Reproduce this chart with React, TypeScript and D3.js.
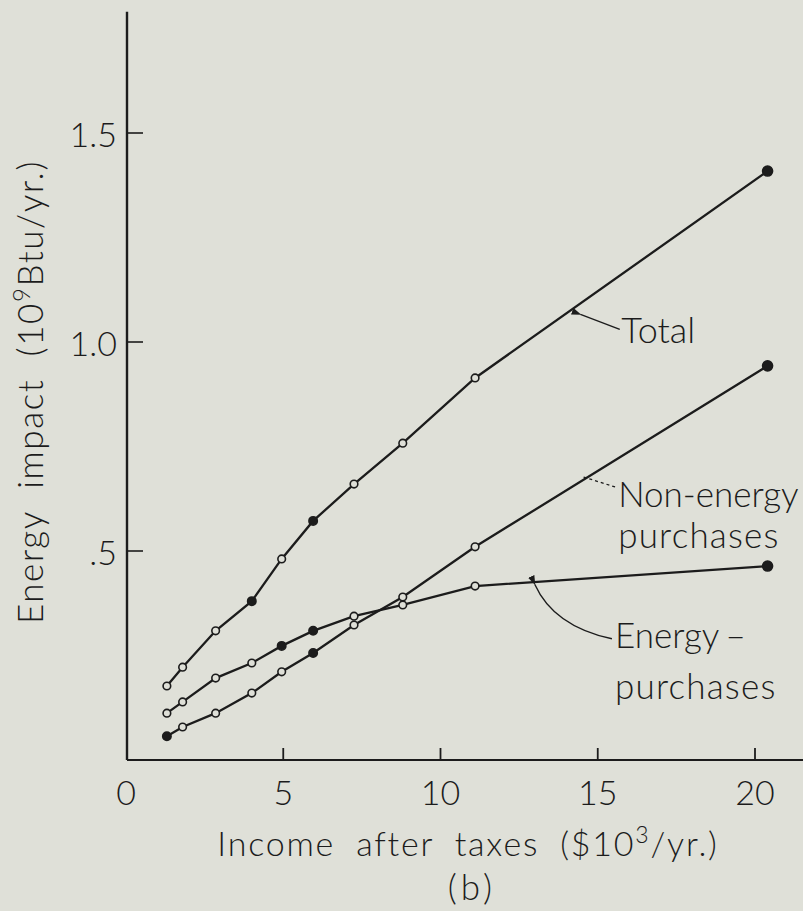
import React from "react";
import * as d3 from "d3";

const incomes = [1.3, 1.8, 2.85, 4.0, 4.95, 5.95, 7.25, 8.8, 11.1, 20.4];
const totalValues = [0.177, 0.222, 0.309, 0.38, 0.481, 0.572, 0.66, 0.758, 0.914, 1.409];
const energyValues = [0.112, 0.139, 0.196, 0.232, 0.273, 0.309, 0.344, 0.371, 0.416, 0.464];
const nonEnergyValues = [0.057, 0.079, 0.112, 0.16, 0.211, 0.256, 0.323, 0.39, 0.51, 0.943];
const totalFilled = [false, false, false, true, false, true, false, false, false, true];
const energyFilled = [false, false, false, false, true, true, false, false, false, true];
const nonEnergyFilled = [true, false, false, false, false, true, false, false, false, true];

const xTicks = [0, 5, 10, 15, 20];
const xTickLabels = ["0", "5", "10", "15", "20"];
const yTicks = [0.5, 1.0, 1.5];
const yTickLabels = [".5", "1.0", "1.5"];

const W = 803;
const H = 911;
const INK = "#1c1c1c";
const BG = "#dfe0d8";
const FONT = "Lato, 'Open Sans', 'DejaVu Sans', sans-serif";

export default function App() {
  const x = d3.scaleLinear().domain([0, 20]).range([126, 755]);
  const y = d3.scaleLinear().domain([0, 1.5]).range([760, 133]);
  const axisX = 127;
  const axisY = y(0);
  const yTop = y(1.79);

  const line = d3
    .line<[number, number]>()
    .x((d) => x(d[0]))
    .y((d) => y(d[1]));

  const series = [
    { values: totalValues, filled: totalFilled },
    { values: energyValues, filled: energyFilled },
    { values: nonEnergyValues, filled: nonEnergyFilled },
  ];

  // annotation anchors (data units)
  const totalArrowFrom: [number, number] = [14.45, 1.066];
  const totalArrowTo: [number, number] = [15.7, 1.03];
  const nonArrowFrom: [number, number] = [14.55, 0.677];
  const nonArrowTo: [number, number] = [15.6, 0.652];
  const enArrowFrom: [number, number] = [13.0, 0.42];
  const enArrowCtrl: [number, number] = [13.6, 0.32];
  const enArrowTo: [number, number] = [15.45, 0.29];

  const labelProps = {
    fontFamily: FONT,
    fontWeight: 300,
    fill: INK,
  };

  return (
    <svg
      width={W}
      height={H}
      style={{ position: "absolute", left: 0, top: 0 }}
      xmlns="http://www.w3.org/2000/svg"
    >
      <defs>
        <marker id="arr" viewBox="0 0 10 10" refX="1" refY="5" markerWidth="7" markerHeight="7" orient="auto-start-reverse">
          <path d="M0,5 L10,1.5 L10,8.5 Z" fill={INK} />
        </marker>
      </defs>
      <rect x={0} y={0} width={W} height={H} fill={BG} />

      {/* axes */}
      <line x1={axisX} y1={yTop} x2={axisX} y2={axisY} stroke={INK} strokeWidth={2.4} />
      <line x1={axisX} y1={axisY} x2={W} y2={axisY} stroke={INK} strokeWidth={2} />

      {yTicks.map((t, i) => (
        <g key={"yt" + i}>
          <line x1={axisX} x2={axisX + 16} y1={y(t)} y2={y(t)} stroke={INK} strokeWidth={1.6} />
          <text x={117} y={y(t)} textAnchor="end" dominantBaseline="central" fontSize={34} {...labelProps}>
            {yTickLabels[i]}
          </text>
        </g>
      ))}

      {xTicks.map((t, i) => (
        <g key={"xt" + i}>
          {t !== 0 && (
            <line x1={x(t)} x2={x(t)} y1={axisY} y2={axisY - 12} stroke={INK} strokeWidth={1.8} />
          )}
          <text x={x(t)} y={805} textAnchor="middle" fontSize={34} {...labelProps}>
            {xTickLabels[i]}
          </text>
        </g>
      ))}

      {/* axis titles */}
      <text
        transform={`translate(43, 392) rotate(-90)`}
        textAnchor="middle"
        fontSize={35}
        letterSpacing={1.6}
        wordSpacing={11}
        {...labelProps}
      >
        Energy impact (10
        <tspan dy={-13} fontSize={24}>9</tspan>
        <tspan dy={13}>Btu/yr.)</tspan>
      </text>
      <text
        x={468}
        y={856}
        textAnchor="middle"
        fontSize={34}
        letterSpacing={1.8}
        wordSpacing={10}
        {...labelProps}
      >
        Income after taxes ($10
        <tspan dy={-13} fontSize={23}>3</tspan>
        <tspan dy={13}>/yr.)</tspan>
      </text>
      <text x={472} y={900} textAnchor="middle" fontSize={35} letterSpacing={4} {...labelProps}>
        (b)
      </text>

      {/* series */}
      {series.map((s, si) => {
        const pts: [number, number][] = incomes.map((v, i) => [v, s.values[i]]);
        return (
          <g key={"s" + si}>
            <path d={line(pts) || ""} fill="none" stroke={INK} strokeWidth={2.3} />
            {pts.map((p, i) => (
              <circle
                key={i}
                cx={x(p[0])}
                cy={y(p[1])}
                r={s.filled[i] ? (i === pts.length - 1 ? 5 : 4.2) : 3.8}
                fill={s.filled[i] ? INK : BG}
                stroke={INK}
                strokeWidth={1.6}
              />
            ))}
          </g>
        );
      })}

      {/* annotations */}
      <line
        x1={x(totalArrowFrom[0])}
        y1={y(totalArrowFrom[1])}
        x2={x(totalArrowTo[0])}
        y2={y(totalArrowTo[1])}
        stroke={INK}
        strokeWidth={1.4}
        markerStart="url(#arr)"
      />
      <text x={x(15.75)} y={y(0.998)} fontSize={36} {...labelProps}>
        Total
      </text>

      <line
        x1={x(nonArrowFrom[0])}
        y1={y(nonArrowFrom[1])}
        x2={x(nonArrowTo[0])}
        y2={y(nonArrowTo[1])}
        stroke={INK}
        strokeWidth={1.3}
        strokeDasharray="3 3"
      />
      <text x={x(15.65)} y={y(0.605)} fontSize={35} {...labelProps}>
        Non-energy
      </text>
      <text x={x(15.65)} y={y(0.508)} fontSize={35} letterSpacing={1.2} {...labelProps}>
        purchases
      </text>

      <path
        d={`M${x(enArrowFrom[0])},${y(enArrowFrom[1])} Q${x(enArrowCtrl[0])},${y(enArrowCtrl[1])} ${x(enArrowTo[0])},${y(enArrowTo[1])}`}
        fill="none"
        stroke={INK}
        strokeWidth={1.4}
        markerStart="url(#arr)"
      />
      <text x={x(15.55)} y={y(0.268)} fontSize={35} {...labelProps}>
        Energy
        <tspan dx={6}>–</tspan>
      </text>
      <text x={x(15.55)} y={y(0.146)} fontSize={35} letterSpacing={1.2} {...labelProps}>
        purchases
      </text>
    </svg>
  );
}
